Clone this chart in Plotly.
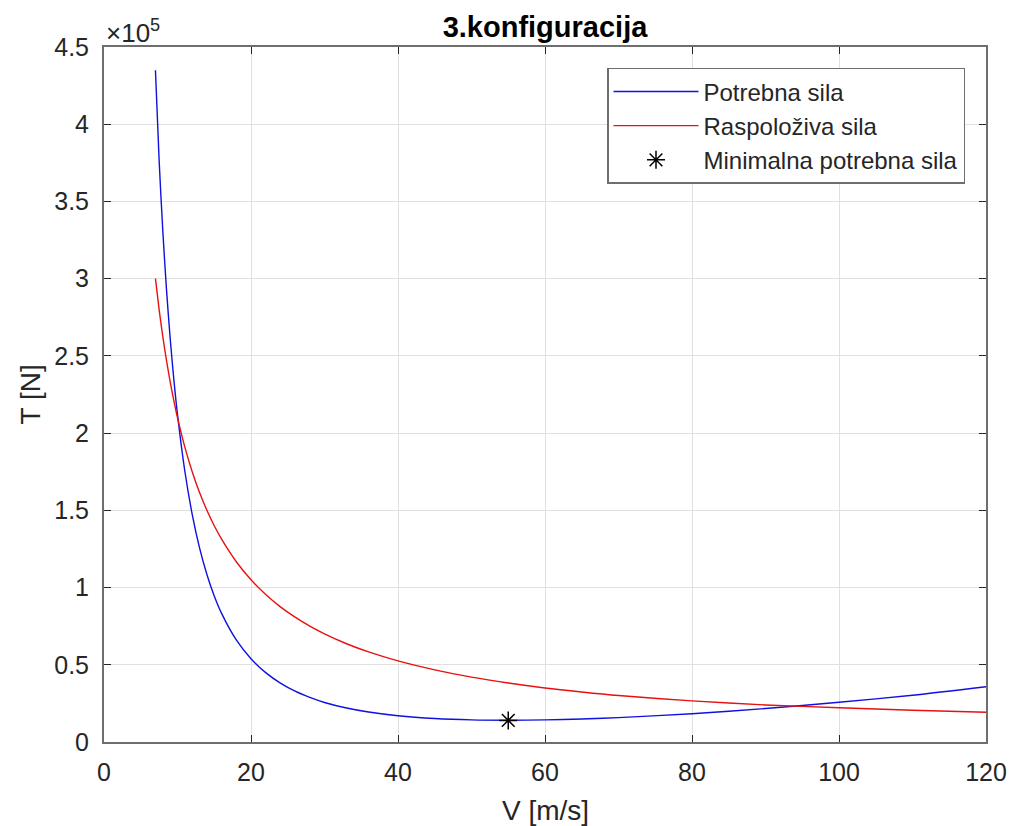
import plotly.graph_objects as go

# Speeds [m/s] at which the curves were read
V = [7, 7.5, 8, 8.5, 9, 9.5, 10, 11, 12, 13, 14, 15, 16, 18, 20, 22, 24, 26, 28, 30,
     33, 36, 40, 45, 50, 55, 60, 65, 70, 80, 90, 100, 110, 120]
# Potrebna sila [N]
T_potrebna = [435000, 376600, 331000, 293250, 261600, 234800, 212000, 175300, 147400, 125700,
              108500, 94600, 83300, 66100, 53900, 44900, 38100, 32900, 28900, 25600,
              22000, 19400, 17000, 15200, 14300, 14100, 14300, 14900, 15800, 18300,
              21700, 25700, 30300, 35800]
# Raspoloživa sila [N]
T_raspoloziva = [300000, 280000, 262500, 247100, 233300, 221100, 210000, 190900, 175000, 161500,
                 150000, 140000, 131300, 116700, 105000, 95500, 87500, 80800, 75000, 70000,
                 63600, 58300, 52500, 46700, 42000, 38200, 35000, 32400, 30100, 26600,
                 24000, 22200, 20600, 19300]
# Minimum required force point
V_min = [55]
T_min = [14000]

x_ticks = [0, 20, 40, 60, 80, 100, 120]
y_ticks = [0, 50000, 100000, 150000, 200000, 250000, 300000, 350000, 400000, 450000]
y_ticktext = ["0", "0.5", "1", "1.5", "2", "2.5", "3", "3.5", "4", "4.5"]

FONT = "Liberation Sans, Arial, Helvetica, sans-serif"
TXT = "#262626"

fig = go.Figure()
fig.add_trace(go.Scatter(x=V, y=T_potrebna, mode="lines", name="Potrebna sila",
                         line=dict(color="#1010e0", width=1.4, shape="spline", smoothing=0.8)))
fig.add_trace(go.Scatter(x=V, y=T_raspoloziva, mode="lines", name="Raspoloživa sila",
                         line=dict(color="#e81010", width=1.4, shape="spline", smoothing=0.8)))
fig.add_trace(go.Scatter(x=V_min, y=T_min, mode="markers", name="Minimalna potrebna sila",
                         marker=dict(symbol="asterisk-open", size=15, color="black",
                                     line=dict(color="black", width=1.5))))

axis_common = dict(showline=True, linecolor="#6e6e6e", linewidth=2, mirror="ticks",
                   ticks="inside", ticklen=7, tickcolor="#262626", tickwidth=1, showgrid=True,
                   gridcolor="#e0e0e0", gridwidth=1, zeroline=False, automargin=False,
                   tickfont=dict(family=FONT, size=25, color=TXT))

fig.update_xaxes(range=[0, 120], tickvals=x_ticks, ticklabelstandoff=7, **axis_common)
fig.update_yaxes(range=[0, 450000], tickvals=y_ticks, ticktext=y_ticktext, ticklabelstandoff=8,
                 **axis_common)

# Axis titles
fig.add_annotation(text="V [m/s]", xref="paper", yref="paper", x=0.5, y=-(810 - 742) / 695,
                   xanchor="center", yanchor="middle", showarrow=False,
                   font=dict(family=FONT, size=28, color=TXT))
fig.add_annotation(text="T [N]", xref="paper", yref="paper", x=-(104 - 30) / 882, y=0.5,
                   xanchor="center", yanchor="middle", showarrow=False, textangle=-90,
                   font=dict(family=FONT, size=28, color=TXT))
# Exponent label
fig.add_annotation(text="×10<sup>5</sup>", xref="paper", yref="paper", x=0.0, y=1.0,
                   xanchor="left", yanchor="bottom", showarrow=False, yshift=-3,
                   font=dict(family=FONT, size=26, color=TXT))

fig.update_layout(
    width=1010, height=826,
    margin=dict(l=104, r=24, t=47, b=84),
    paper_bgcolor="white", plot_bgcolor="white",
    title=dict(text="<b>3.konfiguracija</b>", x=0.5, xanchor="center",
               y=1 - 27 / 826, yanchor="middle", yref="container",
               xref="paper", font=dict(family=FONT, size=29, color="black")),
    showlegend=True,
    legend=dict(x=(965 - 104) / 882, y=0.97, xanchor="right", yanchor="top",
                bgcolor="white", bordercolor="#6e6e6e", borderwidth=1.5,
                font=dict(family=FONT, size=24, color=TXT),
                itemwidth=85, tracegroupgap=0),
)

fig.write_html("out.html")
